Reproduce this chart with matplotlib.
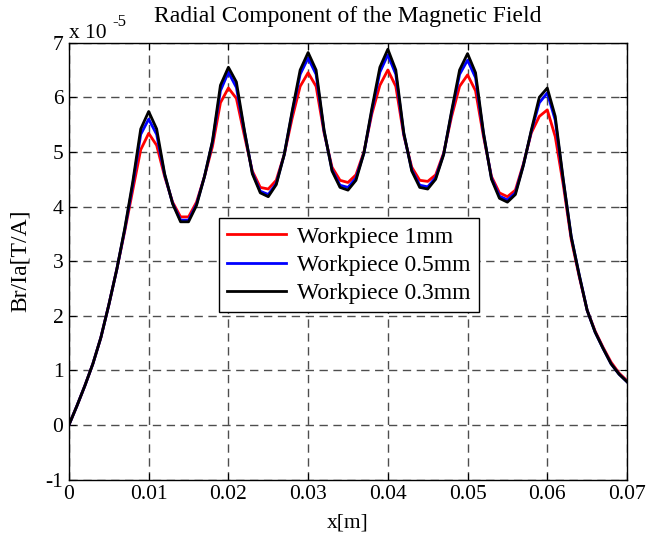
import matplotlib
matplotlib.use('Agg')
import matplotlib.pyplot as plt
import numpy as np

plt.rcParams['font.family'] = ['Liberation Serif', 'DejaVu Serif']
plt.rcParams['axes.unicode_minus'] = False

# sample positions along x (m), 1 mm steps
x_m = np.linspace(0, 0.07, 71)

# Br/Ia values in units of 1e-5 T/A
br_1mm = [0.00, 0.35, 0.72, 1.12, 1.60, 2.20, 2.85, 3.55, 4.30, 5.04,
          5.34, 5.12, 4.55, 4.08, 3.81, 3.81, 4.08, 4.55, 5.10, 5.90,
          6.17, 5.98, 5.30, 4.65, 4.35, 4.32, 4.48, 4.95, 5.62, 6.20,
          6.45, 6.20, 5.35, 4.72, 4.48, 4.44, 4.58, 5.00, 5.70, 6.22,
          6.50, 6.20, 5.30, 4.72, 4.48, 4.46, 4.58, 4.98, 5.65, 6.20,
          6.41, 6.12, 5.28, 4.55, 4.25, 4.18, 4.30, 4.78, 5.35, 5.65,
          5.77, 5.28, 4.40, 3.40, 2.72, 2.10, 1.72, 1.42, 1.15, 0.95,
          0.81]
br_05mm = [0.00, 0.35, 0.72, 1.12, 1.60, 2.20, 2.85, 3.58, 4.40, 5.32,
           5.60, 5.32, 4.58, 4.06, 3.75, 3.75, 4.04, 4.55, 5.18, 6.12,
           6.46, 6.18, 5.38, 4.62, 4.28, 4.22, 4.42, 4.95, 5.72, 6.42,
           6.72, 6.42, 5.38, 4.67, 4.39, 4.35, 4.52, 4.98, 5.76, 6.46,
           6.78, 6.42, 5.33, 4.67, 4.39, 4.36, 4.53, 4.96, 5.72, 6.42,
           6.68, 6.36, 5.33, 4.52, 4.19, 4.12, 4.25, 4.76, 5.38, 5.90,
           6.08, 5.58, 4.48, 3.45, 2.75, 2.10, 1.70, 1.40, 1.12, 0.93,
           0.79]
br_03mm = [0.00, 0.35, 0.72, 1.12, 1.60, 2.20, 2.85, 3.60, 4.45, 5.42,
           5.74, 5.42, 4.60, 4.05, 3.72, 3.72, 4.02, 4.55, 5.20, 6.22,
           6.55, 6.28, 5.40, 4.60, 4.25, 4.18, 4.40, 4.95, 5.75, 6.50,
           6.82, 6.50, 5.40, 4.65, 4.35, 4.30, 4.48, 4.98, 5.80, 6.55,
           6.88, 6.50, 5.35, 4.65, 4.35, 4.32, 4.50, 4.95, 5.75, 6.50,
           6.80, 6.45, 5.35, 4.50, 4.15, 4.08, 4.22, 4.75, 5.40, 6.00,
           6.17, 5.65, 4.50, 3.45, 2.75, 2.10, 1.70, 1.40, 1.12, 0.93,
           0.79]

labels = ['Workpiece 1mm', 'Workpiece 0.5mm', 'Workpiece 0.3mm']
colors = ['#ff0000', '#0000ff', '#000000']

fig = plt.figure(figsize=(6.6, 5.37), dpi=100)
ax = fig.add_axes([0.1045, 0.107, 0.8455, 0.8135])

for y, lab, c in zip([br_1mm, br_05mm, br_03mm], labels, colors):
    ax.plot(x_m, y, color=c, linewidth=2, label=lab)

ax.set_xlim(0, 0.07)
ax.set_ylim(-1, 7)
ax.set_xticks(np.arange(0, 0.071, 0.01))
ax.set_xticklabels(['0', '0.01', '0.02', '0.03', '0.04', '0.05', '0.06', '0.07'])
ax.set_yticks(range(-1, 8))
ax.grid(True, color='0.3', linestyle=(0, (6, 4)), linewidth=1)
ax.tick_params(direction='in', top=True, right=True, length=5, labelsize=15.5, pad=4)
for s in ax.spines.values():
    s.set_linewidth(1)

ax.set_title('Radial Component of the Magnetic Field', fontsize=17, pad=15)
ax.set_xlabel('x[m]', fontsize=15.5, labelpad=7)
ax.set_ylabel('Br/Ia[T/A]', fontsize=17, labelpad=11)
ax.text(0.0, 1.0, 'x 10', transform=ax.transAxes, fontsize=15.5,
        ha='left', va='bottom')
ax.text(0.077, 1.03, '-5', transform=ax.transAxes, fontsize=12,
        ha='left', va='bottom')

leg = ax.legend(loc='upper left', bbox_to_anchor=(0.269, 0.599), borderaxespad=0,
                fontsize=17, fancybox=False, framealpha=1, edgecolor='black',
                handlelength=2.5, handletextpad=0.45, borderpad=0.35,
                labelspacing=0.28)
leg.get_frame().set_linewidth(1)

fig.savefig('out.png', dpi=100)
